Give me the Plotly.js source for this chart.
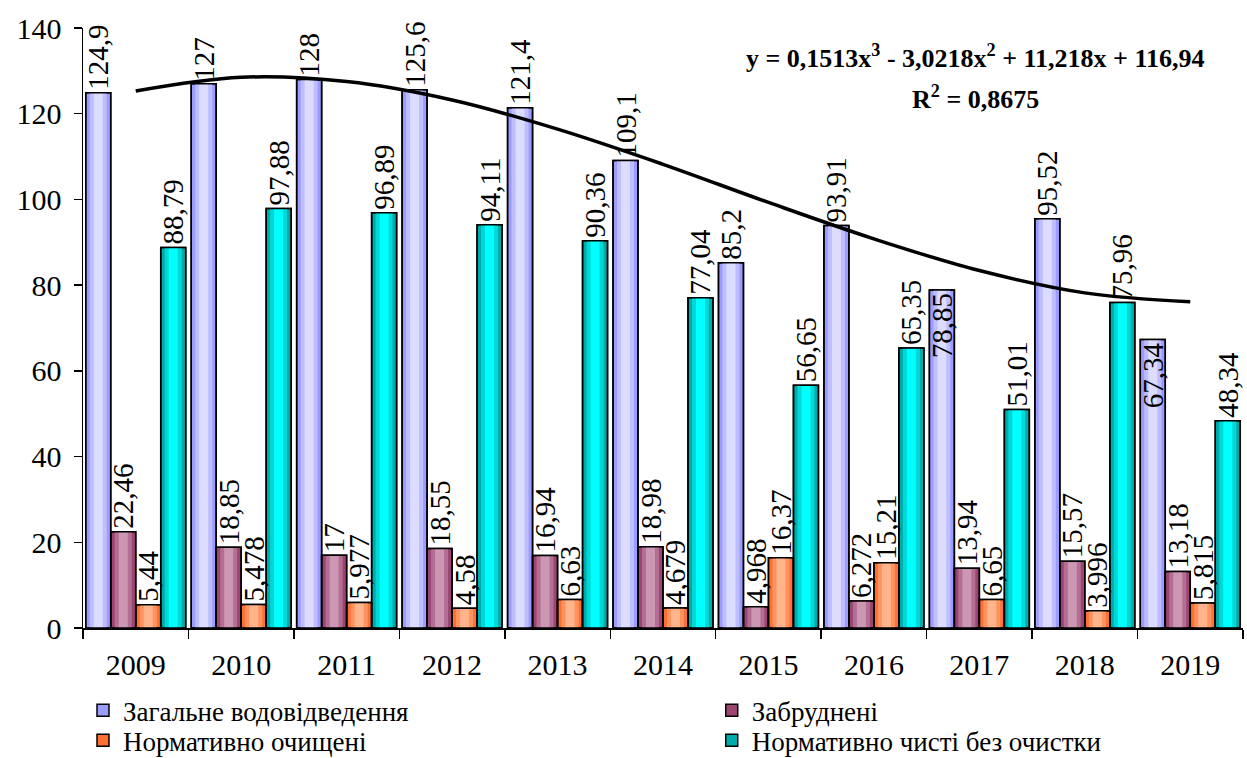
<!DOCTYPE html>
<html>
<head>
<meta charset="utf-8">
<script src="https://cdn.plot.ly/plotly-3.0.1.min.js"></script>
<style>html,body{margin:0;padding:0;background:#fff}#chart{width:1247px;height:758px}</style>
</head>
<body>
<div id="chart"></div>
<script>
const years = ['2009','2010','2011','2012','2013','2014','2015','2016','2017','2018','2019'];
const seriesNames = ['Загальне водовідведення','Забруднені','Нормативно очищені','Нормативно чисті без очистки'];
const totalDrain = [124.9,127,128,125.6,121.4,109.1,85.2,93.91,78.85,95.52,67.34];
const polluted = [22.46,18.85,17,18.55,16.94,18.98,4.968,6.272,13.94,15.57,13.18];
const treated = [5.44,5.478,5.977,4.58,6.63,4.679,16.37,15.21,6.65,3.996,5.815];
const cleanNoTreat = [88.79,97.88,96.89,94.11,90.36,77.04,56.65,65.35,51.01,75.96,48.34];
const trendValues = [125.3,128.5,127.5,123.2,116.4,108.2,99.3,90.8,83.4,78.2,76.1];
const equationText = 'y = 0,1513x<sup>3</sup> - 3,0218x<sup>2</sup> + 11,218x + 116,94';
const r2Text = 'R<sup>2</sup> = 0,8675';

const seriesData = [totalDrain, polluted, treated, cleanNoTreat];
const palettes = [
  ['#9c9cff','#bdbdff','#dcdcff'],
  ['#9b4572','#b56e93','#cb97b3'],
  ['#ff7033','#ff9360','#ffb48c'],
  ['#00abab','#00d8d8','#00ffff']
];
const FONT = '"Liberation Serif", "Times New Roman", serif';
const W = 0.237;
const baseOffsets = [-0.474,-0.237,0,0.237];
const layerFracs = [1,0.68,0.36];
const legendIds = ['legend','legend2','legend3','legend4'];

const traces = [];
seriesData.forEach((vals, s) => {
  layerFracs.forEach((f, li) => {
    traces.push({
      type:'bar', x: years, y: vals, name: seriesNames[s],
      width: W*f, offset: baseOffsets[s] + W*(1-f)/2,
      marker:{color: palettes[s][li], line:{color:'#000', width: li===0?1.5:0}},
      showlegend: li===0, legend: legendIds[s], hoverinfo:'skip'
    });
  });
});
seriesData.forEach((vals, s) => {
  const pos = vals.map((v,i) => (s===0 && (years[i]==='2017' || years[i]==='2019')) ? 'inside' : 'outside');
  traces.push({
    type:'bar', x: years, y: vals, width: W, offset: baseOffsets[s],
    marker:{color:'rgba(0,0,0,0)', line:{color:'#000', width:1.5}},
    text: vals.map(v => String(v).replace('.', ',')),
    textposition: pos, textangle: -90, insidetextanchor:'end',
    constraintext:'none', cliponaxis:false,
    textfont:{family:FONT, size:29, color:'#000'},
    showlegend:false, hoverinfo:'skip'
  });
});
traces.push({
  type:'scatter', mode:'lines', x: years, y: trendValues,
  line:{color:'#000', width:3.5, shape:'spline'}, showlegend:false, hoverinfo:'skip'
});

function leg(x, y){
  return {x:x, y:y, xref:'paper', yref:'paper', xanchor:'left', yanchor:'middle',
    font:{family:FONT, size:27, color:'#000'}, bgcolor:'rgba(0,0,0,0)', borderwidth:0,
    itemwidth:30, tracegroupgap:0};
}

const layout = {
  width:1247, height:758,
  margin:{l:83, r:4, t:28, b:130, autoexpand:false},
  paper_bgcolor:'#fff', plot_bgcolor:'#fff',
  barmode:'overlay',
  font:{family:FONT, color:'#000'},
  xaxis:{type:'category', range:[-0.5,10.5], showline:true, linecolor:'#000', linewidth:1.5,
    ticks:'outside', tickson:'boundaries', ticklen:9, tickcolor:'#000', tickwidth:1.5,
    showgrid:false, zeroline:false, ticklabelstandoff:9, automargin:false,
    tickfont:{family:FONT, size:30, color:'#000'}},
  yaxis:{range:[0,140], dtick:20, showline:true, linecolor:'#000', linewidth:1.5,
    ticks:'outside', ticklen:8, tickcolor:'#000', tickwidth:1.5, showgrid:false, zeroline:false,
    ticklabelstandoff:6, automargin:false,
    tickfont:{family:FONT, size:30, color:'#000'}},
  legend: leg(0.0, -0.138),
  legend2: leg(0.542, -0.138),
  legend3: leg(0.0, -0.188),
  legend4: leg(0.542, -0.188),
  annotations:[
    {text:'<b>'+equationText+'</b>', x:0.769, y:0.952, xref:'paper', yref:'paper',
     showarrow:false, xanchor:'center', yanchor:'middle', font:{family:FONT, size:26, color:'#000'}},
    {text:'<b>'+r2Text+'</b>', x:0.769, y:0.885, xref:'paper', yref:'paper',
     showarrow:false, xanchor:'center', yanchor:'middle', font:{family:FONT, size:26, color:'#000'}}
  ]
};
Plotly.newPlot('chart', traces, layout, {displayModeBar:false, staticPlot:true});
</script>
</body>
</html>
